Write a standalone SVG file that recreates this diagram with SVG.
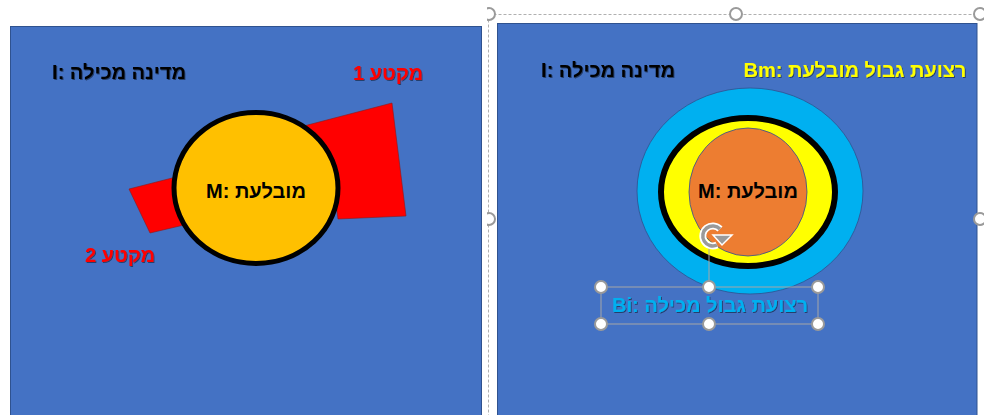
<svg xmlns="http://www.w3.org/2000/svg" width="984" height="415" viewBox="0 0 984 415">
<style>
.t{font-family:"Liberation Sans","DejaVu Sans",sans-serif;font-weight:bold;font-size:20px;text-anchor:middle;direction:rtl;unicode-bidi:embed}
.panel{fill:#4472C4;stroke:#2F528F;stroke-width:1}
.h{fill:#fff;stroke:#9a9a9a;stroke-width:2}
.sel{fill:none;stroke:#a6a6a6;stroke-width:1}
</style>
<defs>
<filter id="sh" x="-10%" y="-30%" width="120%" height="160%">
<feDropShadow dx="1" dy="1" stdDeviation="0.7" flood-color="#000" flood-opacity="0.45"/>
</filter>
<clipPath id="vp"><rect x="487" y="0" width="497" height="415"/></clipPath>
</defs>
<rect width="984" height="415" fill="#fff"/>

<g id="panel-left">
<rect class="panel" x="10.5" y="26.5" width="471" height="400"/>
</g>
<g id="panel-right">
<rect class="panel" x="497.5" y="23.5" width="479.5" height="400"/>
</g>

<g id="segment1-shape">
<polygon points="300,127 392,103 406,216 338,219 330,160" fill="#FF0000" stroke="#8B1a1a" stroke-width="0.6"/>
</g>
<g id="segment2-shape">
<polygon points="129,189 180,176 184,225 150,233" fill="#FF0000" stroke="#8B1a1a" stroke-width="0.6"/>
</g>
<g id="enclave-left">
<ellipse cx="256" cy="188" rx="82" ry="75.5" fill="#FFC000" stroke="#000" stroke-width="5"/>
<text class="t" x="256" y="198">מובלעת :M</text>
</g>
<g id="label-I-left">
<text class="t" x="119" y="79" fill="#000" filter="url(#sh)">מדינה מכילה :I</text>
</g>
<g id="label-seg1">
<text class="t" x="388" y="80" fill="#FF0000" filter="url(#sh)">מקטע 1</text>
</g>
<g id="label-seg2">
<text class="t" x="120" y="262" fill="#FF0000" filter="url(#sh)">מקטע 2</text>
</g>

<g id="band-Bi">
<ellipse cx="750" cy="191" rx="113" ry="103" fill="#00B0F0" stroke="#2F528F" stroke-width="0.8"/>
</g>
<g id="band-Bm">
<ellipse cx="748" cy="192" rx="87" ry="74" fill="#FFFF00" stroke="#000" stroke-width="6"/>
</g>
<g id="enclave-right">
<ellipse cx="748" cy="192" rx="59" ry="64" fill="#ED7D31" stroke="#2F528F" stroke-width="0.8"/>
<text class="t" x="748" y="198">מובלעת :M</text>
</g>
<g id="label-I-right">
<text class="t" x="608" y="77" fill="#000" filter="url(#sh)">מדינה מכילה :I</text>
</g>
<g id="label-Bm">
<text class="t" x="855" y="77" fill="#FFFF00" filter="url(#sh)">רצועת גבול מובלעת :Bm</text>
</g>
<g id="label-Bi">
<text class="t" x="710" y="312" fill="#00B0F0" filter="url(#sh)">רצועת גבול מכילה :Bi</text>
</g>

<g id="selection" clip-path="url(#vp)">
<path d="M488.5,14.5 H984 M488.5,14.5 V415" fill="none" stroke="#b0b0b0" stroke-width="1" stroke-dasharray="3,2"/>
<circle class="h" cx="489" cy="14" r="6"/>
<circle class="h" cx="736" cy="14" r="6"/>
<circle class="h" cx="980" cy="14" r="6"/>
<circle class="h" cx="489" cy="219" r="6"/>
<circle class="h" cx="980" cy="219" r="6"/>
<rect class="sel" x="601" y="287" width="217" height="37"/>
<line class="sel" x1="709" y1="247" x2="709" y2="287"/>
<circle class="h" cx="601" cy="287" r="6"/>
<circle class="h" cx="709" cy="287" r="6"/>
<circle class="h" cx="818" cy="287" r="6"/>
<circle class="h" cx="601" cy="324" r="6"/>
<circle class="h" cx="709" cy="324" r="6"/>
<circle class="h" cx="818" cy="324" r="6"/>
<g id="rotate-handle">
<path d="M720,229 A10,10 0 1 0 717,245" fill="none" stroke="#fff" stroke-width="7"/>
<path d="M720,229 A10,10 0 1 0 717,245" fill="none" stroke="#9a9a9a" stroke-width="3.5"/>
<polygon points="713,235 732,235 722,245" fill="#9a9a9a" stroke="#fff" stroke-width="1.5"/>
</g>
</g>
</svg>
